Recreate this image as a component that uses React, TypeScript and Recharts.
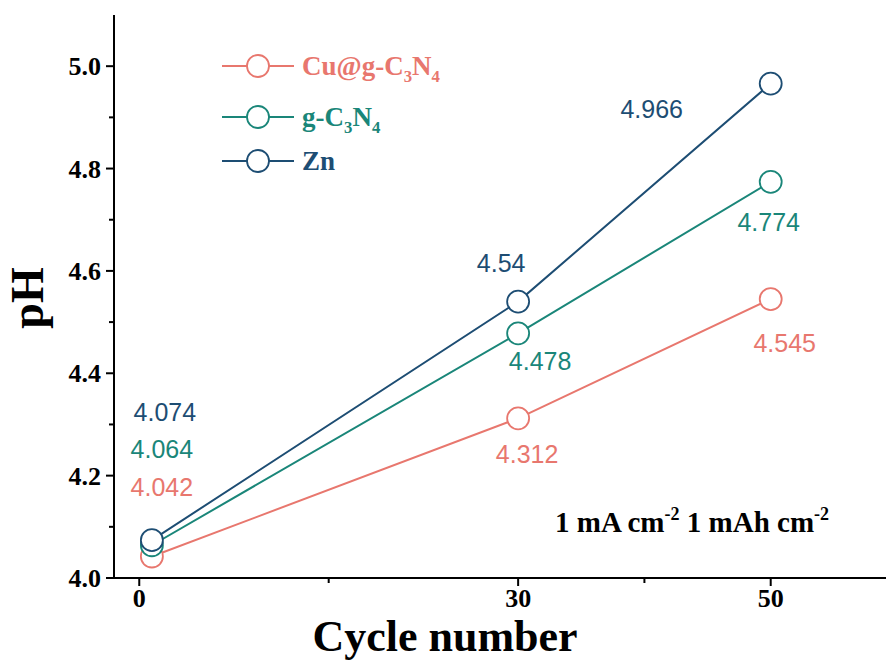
import React from 'react'
import { LineChart, Line, XAxis, YAxis, Legend, Customized } from 'recharts'

// cycle numbers and measured pH
const cycles = [1, 30, 50]
const cuPH = [4.042, 4.312, 4.545]
const gcnPH = [4.064, 4.478, 4.774]
const znPH = [4.074, 4.54, 4.966]

const seriesNames = ['Cu@g-C3N4', 'g-C3N4', 'Zn']
const xTicks = [0, 15, 30, 40, 50]
const xLabeled = [0, 30, 50]
const yTicks = [4.0, 4.1, 4.2, 4.3, 4.4, 4.5, 4.6, 4.7, 4.8, 4.9, 5.0]

const CU = '#E8776E'
const GCN = '#1A8679'
const ZN = '#1D4D73'

const SERIF = '"Liberation Serif", "Times New Roman", serif'
const SANS = '"Liberation Sans", Arial, sans-serif'

// where each value label sits relative to its point
const cuOffsets = [[10, -70], [9, 36], [14, 44]]
const gcnOffsets = [[10, -96], [22, 28], [-2, 40]]
const znOffsets = [[13, -128], [-17, -39], [-119, 25]]

const data = cycles.map((c, i) => ({
  cycle: c,
  cu: cuPH[i],
  gcn: gcnPH[i],
  zn: znPH[i],
}))

const makeLabel = (color: string, offs: number[][]) => (props: any) => {
  const { x, y, value, index } = props
  const [dx, dy] = offs[index] || [0, 0]
  return (
    <text
      key={`lbl-${color}-${index}`}
      x={x + dx}
      y={y + dy}
      fill={color}
      fontSize={25}
      fontFamily={SANS}
      textAnchor="middle"
      dominantBaseline="central"
    >
      {value}
    </text>
  )
}

const XTick = (props: any) => {
  const { x, y, payload } = props
  const major = xLabeled.includes(payload.value)
  return (
    <g>
      <line x1={x} y1={y} x2={x} y2={y + (major ? 8 : 5)} stroke="#000" strokeWidth={2} />
      {major && (
        <text x={x} y={y + 29} textAnchor="middle" fontSize={26} fontWeight="bold" fontFamily={SERIF} fill="#000">
          {payload.value}
        </text>
      )}
    </g>
  )
}

const YTick = (props: any) => {
  const { x, y, payload } = props
  const major = Math.round(payload.value * 10) % 2 === 0
  return (
    <g>
      <line x1={x - (major ? 8 : 5)} y1={y} x2={x} y2={y} stroke="#000" strokeWidth={2} />
      {major && (
        <text x={x - 13} y={y} dy="0.35em" textAnchor="end" fontSize={26} fontWeight="bold" fontFamily={SERIF} fill="#000">
          {payload.value.toFixed(1)}
        </text>
      )}
    </g>
  )
}

// digits in a formula become subscripts
const Formula = ({ text, size }: { text: string; size: number }) => {
  const parts: React.ReactNode[] = []
  let sub = false
  text.split('').forEach((ch, i) => {
    const isDigit = /[0-9]/.test(ch)
    if (isDigit && !sub) {
      parts.push(<tspan key={i} dy={7} fontSize={size * 0.62}>{ch}</tspan>)
      sub = true
    } else if (!isDigit && sub) {
      parts.push(<tspan key={i} dy={-7} fontSize={size}>{ch}</tspan>)
      sub = false
    } else {
      parts.push(<tspan key={i} fontSize={isDigit ? size * 0.62 : size}>{ch}</tspan>)
    }
  })
  return <>{parts}</>
}

const legendRows = [26, 77, 121]

const LegendContent = (props: any) => {
  const items = [...(props.payload || [])].sort(
    (a: any, b: any) => seriesNames.indexOf(a.value) - seriesNames.indexOf(b.value)
  )
  return (
    <svg width={260} height={150}>
      {items.map((entry: any, i: number) => {
        const cy = legendRows[i]
        return (
          <g key={entry.value}>
            <line x1={7} y1={cy} x2={79} y2={cy} stroke={entry.color} strokeWidth={2} />
            <circle cx={43} cy={cy} r={11} fill="#fff" stroke={entry.color} strokeWidth={1.8} />
            <text x={87} y={cy + 9} fill={entry.color} fontWeight="bold" fontFamily={SERIF} fontSize={27}>
              <Formula text={entry.value} size={27} />
            </text>
          </g>
        )
      })}
    </svg>
  )
}

const Annotation = () => (
  <text x={555} y={532} fontSize={29} fontWeight="bold" fontFamily={SERIF} fill="#000">
    1 mA cm
    <tspan dy={-12} fontSize={18}>-2</tspan>
    <tspan dy={12} fontSize={29}> 1 mAh cm</tspan>
    <tspan dy={-12} fontSize={18}>-2</tspan>
  </text>
)

const AxisTitles = () => (
  <g>
    <text x={445} y={651} textAnchor="middle" fontSize={44} fontWeight="bold" fontFamily={SERIF} fill="#000">
      Cycle number
    </text>
    <text
      x={43}
      y={298}
      transform="rotate(-90 43 298)"
      textAnchor="middle"
      fontSize={46}
      fontWeight="bold"
      fontFamily={SERIF}
      fill="#000"
    >
      pH
    </text>
  </g>
)

export default function App() {
  return (
    <div style={{ position: 'fixed', left: 0, top: 0, width: 886, height: 661, overflow: 'hidden', background: '#fff' }}>
      <LineChart width={910} height={661} data={data} margin={{ top: 15, right: 13, left: 0, bottom: 0 }}>
        <XAxis
          dataKey="cycle"
          type="number"
          domain={[-2, 60]}
          ticks={xTicks}
          allowDataOverflow
          height={83}
          tickSize={0}
          tickMargin={0}
          tickLine={false}
          tick={<XTick />}
          axisLine={{ stroke: '#000', strokeWidth: 2 }}
          interval={0}
        />
        <XAxis
          xAxisId="top"
          orientation="top"
          type="number"
          domain={[-2, 60]}
          height={0}
          tick={false}
          tickLine={false}
          axisLine={{ stroke: '#000', strokeWidth: 2 }}
        />
        <YAxis
          type="number"
          domain={[4.0, 5.1]}
          ticks={yTicks}
          allowDataOverflow
          width={114}
          tickSize={0}
          tickMargin={0}
          tickLine={false}
          tick={<YTick />}
          axisLine={{ stroke: '#000', strokeWidth: 2 }}
          interval={0}
        />
        <Legend
          layout="vertical"
          align="center"
          verticalAlign="middle"
          content={<LegendContent />}
          wrapperStyle={{ position: 'absolute', left: 215, top: 40, width: 260, height: 150 }}
        />
        <Line
          dataKey="cu"
          name={seriesNames[0]}
          stroke={CU}
          strokeWidth={2}
          dot={{ r: 11, fill: '#fff', stroke: CU, strokeWidth: 1.8 }}
          activeDot={false}
          isAnimationActive={false}
          label={makeLabel(CU, cuOffsets)}
        />
        <Line
          dataKey="gcn"
          name={seriesNames[1]}
          stroke={GCN}
          strokeWidth={2}
          dot={{ r: 11, fill: '#fff', stroke: GCN, strokeWidth: 1.8 }}
          activeDot={false}
          isAnimationActive={false}
          label={makeLabel(GCN, gcnOffsets)}
        />
        <Line
          dataKey="zn"
          name={seriesNames[2]}
          stroke={ZN}
          strokeWidth={2}
          dot={{ r: 11, fill: '#fff', stroke: ZN, strokeWidth: 1.8 }}
          activeDot={false}
          isAnimationActive={false}
          label={makeLabel(ZN, znOffsets)}
        />
        <Customized component={<Annotation />} />
        <Customized component={<AxisTitles />} />
      </LineChart>
    </div>
  )
}
